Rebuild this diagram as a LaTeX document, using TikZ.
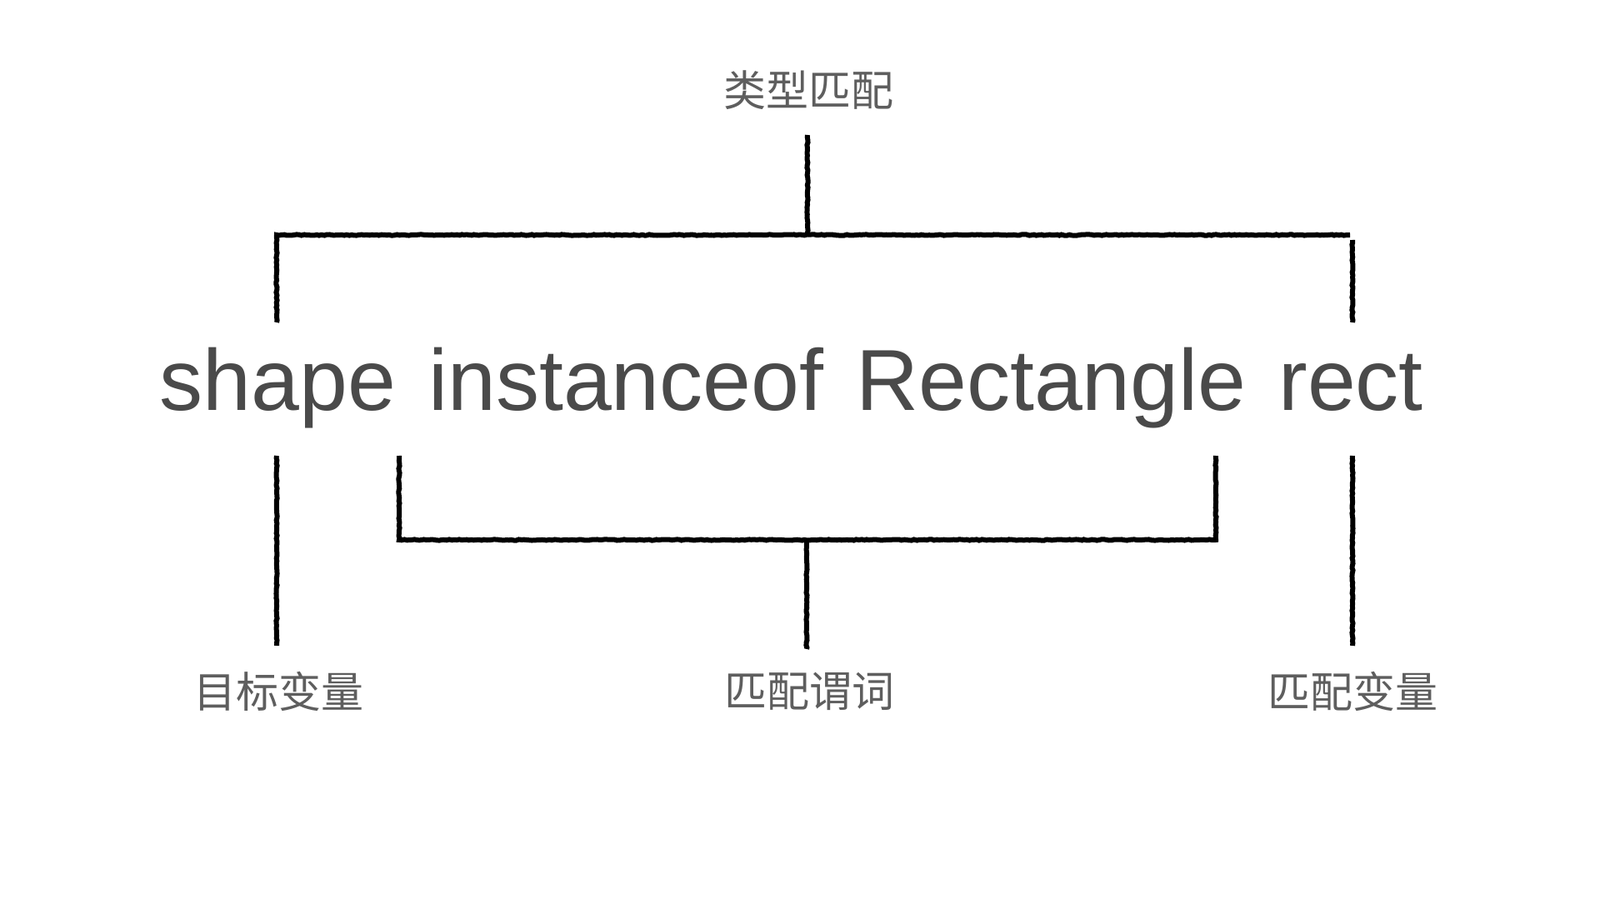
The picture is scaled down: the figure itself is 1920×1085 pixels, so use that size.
\documentclass[tikz,border=0pt]{standalone}
\usepackage{fontspec}
\usetikzlibrary{decorations.pathmorphing}
\setmainfont{Liberation Sans}
\newfontfamily\cjk{Noto Sans CJK SC}
\definecolor{codegray}{HTML}{4A4A4A}
\definecolor{labelgray}{HTML}{5E5E5E}
\newcommand{\wsp}{\hspace{19.5pt}}
\begin{document}
\begin{tikzpicture}[x=0.5pt,y=-0.5pt,
  codetext/.style={inner sep=0pt,text=codegray,font=\fontsize{52pt}{60pt}\selectfont},
  cjklabel/.style={inner sep=0pt,text=labelgray,font=\cjk\fontsize{25.5pt}{30pt}\selectfont},
  bracket/.style={draw=black,line width=3pt,line cap=butt,line join=miter,
    decorate,decoration={random steps,segment length=1.5pt,amplitude=0.3pt}}]
\useasboundingbox[fill=white] (0,0) rectangle (1920,1085);
% texts
\node[cjklabel] (title) at (970,108) {类型匹配};
\node[codetext,anchor=base] (code) at (950,492) {shape\wsp instanceof\wsp Rectangle\wsp rect};
\node[cjklabel] (target) at (334,830) {目标变量};
\node[cjklabel] (pred) at (971,830) {匹配谓词};
\node[cjklabel] (mvar) at (1623,830) {匹配变量};
% bracket coordinates
\coordinate (t0) at (969,162);
\coordinate (t1) at (969,282);
\coordinate (tl) at (332,282);
\coordinate (tr) at (1620,282);
\coordinate (tlb) at (332,387);
\coordinate (trt) at (1623,288);
\coordinate (trb) at (1623,387);
\coordinate (bl0) at (332,547);
\coordinate (bl1) at (332,775);
\coordinate (br0) at (1623,547);
\coordinate (br1) at (1623,775);
\coordinate (il0) at (479,547);
\coordinate (il1) at (479,648);
\coordinate (ir0) at (1459,547);
\coordinate (ir1) at (1459,648);
\coordinate (m0) at (968,648);
\coordinate (m1) at (968,779);
% top bracket
\draw[bracket] (t0) -- (t1);
\draw[bracket] (tlb) -- (tl) -- (tr);
\draw[bracket] (trt) -- (trb);
% lower lines
\draw[bracket] (bl0) -- (bl1);
\draw[bracket] (br0) -- (br1);
\draw[bracket] (il0) -- (il1) -- (ir1) -- (ir0);
\draw[bracket] (m0) -- (m1);
\end{tikzpicture}
\end{document}
